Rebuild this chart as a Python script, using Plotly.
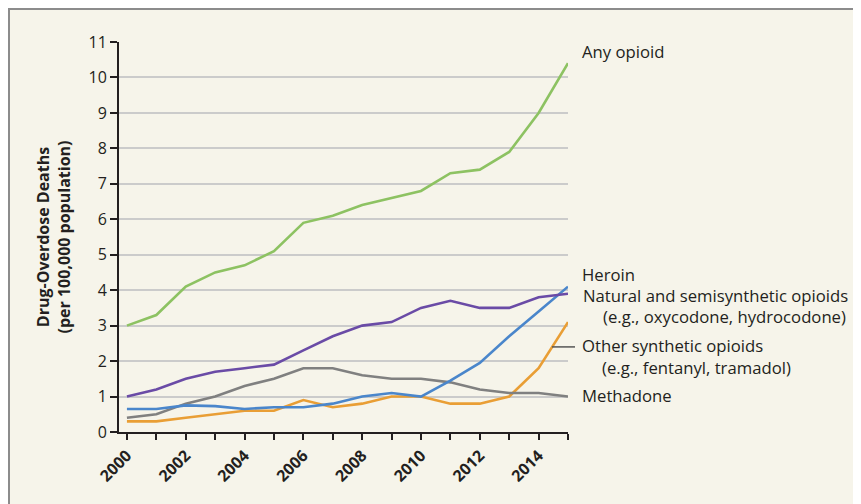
import plotly.graph_objects as go

years = list(range(2000, 2016))
any_opioid = [3.0, 3.3, 4.1, 4.5, 4.7, 5.1, 5.9, 6.1, 6.4, 6.6, 6.8, 7.3, 7.4, 7.9, 9.0, 10.4]
natural_semi = [1.0, 1.2, 1.5, 1.7, 1.8, 1.9, 2.3, 2.7, 3.0, 3.1, 3.5, 3.7, 3.5, 3.5, 3.8, 3.9]
methadone = [0.4, 0.5, 0.8, 1.0, 1.3, 1.5, 1.8, 1.8, 1.6, 1.5, 1.5, 1.4, 1.2, 1.1, 1.1, 1.0]
heroin = [0.65, 0.65, 0.75, 0.73, 0.65, 0.7, 0.7, 0.8, 1.0, 1.1, 1.0, 1.45, 1.95, 2.7, 3.4, 4.1]
other_synth = [0.3, 0.3, 0.4, 0.5, 0.6, 0.6, 0.9, 0.7, 0.8, 1.0, 1.0, 0.8, 0.8, 1.0, 1.8, 3.1]

x_tick_vals = list(range(2000, 2016))
x_tick_text = [str(y) if y % 2 == 0 else "" for y in x_tick_vals]
y_tick_vals = list(range(0, 12))

FONT = "Open Sans"
TXT = "#231F20"

series = [
    ("Other synthetic opioids", other_synth, "#E99E35"),
    ("Methadone", methadone, "#808080"),
    ("Heroin", heroin, "#4A86CB"),
    ("Natural and semisynthetic opioids", natural_semi, "#6A4BA6"),
    ("Any opioid", any_opioid, "#8DC262"),
]

fig = go.Figure()
for name, vals, col in series:
    fig.add_trace(go.Scatter(x=years, y=vals, mode="lines", name=name,
                             line=dict(color=col, width=2.6), cliponaxis=False,
                             showlegend=False))

# geometry (page has an 8px body margin, so figure coords = reference coords - 8)
OFF = 8
L, R, T, B = 119 - OFF, 568 - OFF, 42 - OFF, 432 - OFF
W, H = 861 - OFF, 504 - OFF
pw, ph = R - L, B - T

def px(xp):
    return (xp - OFF - L) / pw

def py(yp):
    return (B - (yp - OFF)) / ph

shapes = [
    dict(type="rect", xref="paper", yref="paper", x0=px(9), x1=px(900), y0=py(9), y1=py(540),
         fillcolor="#F6F4EA", line=dict(color="#8C8C8C", width=2), layer="below"),
    dict(type="line", xref="paper", yref="y", x0=px(552), x1=px(575), y0=2.40, y1=2.40,
         line=dict(color="#555555", width=1.5)),
]

labels = [
    (580, 10.72, "Any opioid"),
    (580, 4.43, "Heroin"),
    (581, 3.84, "Natural and semisynthetic opioids"),
    (601, 3.27, "(e.g., oxycodone, hydrocodone)"),
    (580, 2.43, "Other synthetic opioids"),
    (600, 1.83, "(e.g., fentanyl, tramadol)"),
    (580, 1.02, "Methadone"),
]
annotations = [
    dict(xref="paper", yref="y", x=px(xp), y=yv, text=t, showarrow=False,
         xanchor="left", yanchor="middle", font=dict(family=FONT, size=16.7, color=TXT))
    for xp, yv, t in labels
]

fig.update_layout(
    width=W, height=H,
    margin=dict(l=L, r=W - R, t=T, b=H - B, pad=0),
    paper_bgcolor="white",
    plot_bgcolor="#FDFCF7",
    font=dict(family=FONT, color=TXT),
    shapes=shapes,
    annotations=annotations,
    xaxis=dict(range=[1999.73, 2015.0], tickvals=x_tick_vals, ticktext=x_tick_text,
               tickangle=-45, ticks="outside", ticklen=6, tickwidth=2, tickcolor="#231F20",
               showline=True, linecolor="#231F20", linewidth=2, showgrid=False, zeroline=False,
               tickfont=dict(family=FONT, size=16, color=TXT, weight="bold")),
    yaxis=dict(range=[0, 11], tickvals=y_tick_vals, ticks="outside", ticklen=7, tickwidth=2,
               tickcolor="#231F20", showline=True, linecolor="#231F20", linewidth=2,
               showgrid=True, gridcolor="#CBCBCB", gridwidth=1.5, zeroline=False,
               tickfont=dict(family=FONT, size=16, color=TXT),
               title=dict(text="<b>Drug-Overdose Deaths<br>(per 100,000 population)</b>",
                          font=dict(family=FONT, size=16, color=TXT), standoff=14)),
)

fig.write_html("out.html")
